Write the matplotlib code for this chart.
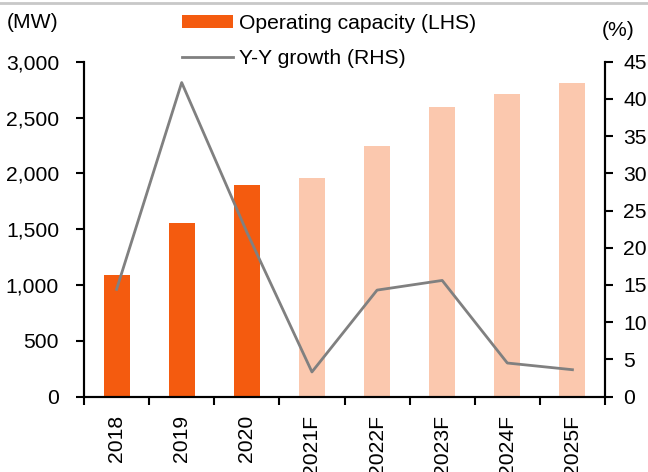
import matplotlib.pyplot as plt
from matplotlib.lines import Line2D
from matplotlib.patches import Patch

plt.rcParams['font.family'] = ['Liberation Sans', 'DejaVu Sans']

years = ['2018', '2019', '2020', '2021F', '2022F', '2023F', '2024F', '2025F']
capacity = [1093, 1554, 1898, 1959, 2246, 2597, 2713, 2812]
growth = [14.4, 42.2, 22.1, 3.3, 14.3, 15.6, 4.5, 3.6]
is_forecast = [False, False, False, True, True, True, True, True]

dark = '#F45B0F'
light = '#FBC8AE'
grey = '#808080'
fs = 15.2

fig = plt.figure(figsize=(6.48, 4.72), dpi=100)
ax = fig.add_axes([84 / 648, 1 - 396.5 / 472, (605 - 84) / 648, (396.5 - 61.7) / 472])
ax2 = ax.twinx()

x = list(range(len(years)))
colors = [light if f else dark for f in is_forecast]
ax.bar(x, capacity, width=0.4, color=colors, zorder=2)
ax2.plot(x, growth, color=grey, lw=2, zorder=3)

ax.set_xlim(-0.5, len(years) - 0.5)
ax.set_ylim(0, 3000)
ax.set_yticks(range(0, 3001, 500))
ax.set_yticklabels([f'{v:,}' for v in range(0, 3001, 500)])
ax2.set_ylim(0, 45)
ax2.set_yticks(range(0, 46, 5))

ax.set_xticks(x)
ax.set_xticklabels(years, rotation=90)
ax.set_xticks([i - 0.5 for i in range(len(years) + 1)], minor=True)
ax.tick_params(axis='x', which='major', length=0, pad=13, labelsize=fs)
ax.tick_params(axis='x', which='minor', length=6, width=1.5, direction='out')
ax.tick_params(axis='y', length=6, width=1.5, direction='out', pad=12, labelsize=fs)
ax2.tick_params(axis='y', length=6, width=1.5, direction='out', pad=7, labelsize=fs)

for a in (ax, ax2):
    a.spines['top'].set_visible(False)
    for s in ('left', 'right', 'bottom'):
        a.spines[s].set_linewidth(1.5)
ax2.set_zorder(ax.get_zorder() + 1)
ax2.patch.set_visible(False)

fig.text(7 / 648, 1 - 23 / 472, '(MW)', fontsize=fs, ha='left', va='center')
fig.text(618 / 648, 1 - 30 / 472, '(%)', fontsize=fs, ha='center', va='center')

handles = [Patch(facecolor=dark), Line2D([0], [0], color=grey, lw=2)]
fig.legend(handles, ['Operating capacity (LHS)', 'Y-Y growth (RHS)'],
           loc='upper left', bbox_to_anchor=(182 / 648, 1 - 14 / 472),
           frameon=False, fontsize=fs, handlelength=2.4, handleheight=0.5,
           handletextpad=0.3, labelspacing=0.75, borderpad=0, borderaxespad=0)

fig.add_artist(Line2D([0, 1], [1 - 3 / 472, 1 - 3 / 472], color='#C8C8C8', lw=2))

fig.savefig('out.png', dpi=100)
